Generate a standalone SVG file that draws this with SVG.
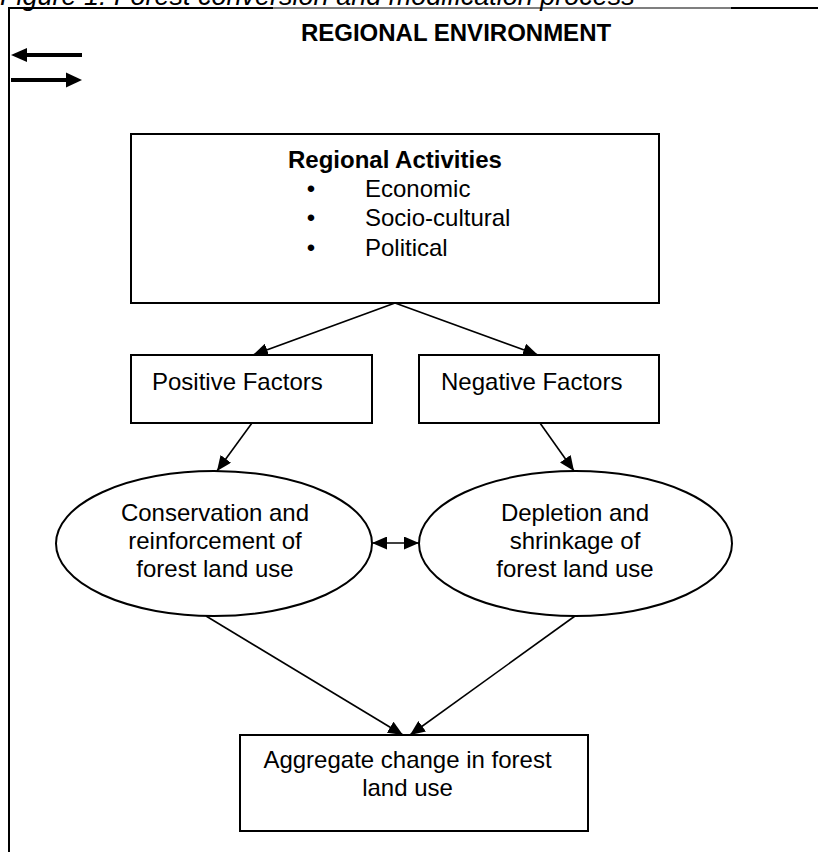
<svg xmlns="http://www.w3.org/2000/svg" width="818" height="852" viewBox="0 0 818 852">
<defs>
<style>
text{font-family:"Liberation Sans",Arial,sans-serif;font-size:24px;fill:#000}
.b{font-weight:bold}
.cap{font-style:italic;font-size:27px}
.box{fill:#fff;stroke:#000;stroke-width:2}
.ell{fill:#fff;stroke:#000;stroke-width:2}
.con{stroke:#000;stroke-width:1.6;fill:none}
</style>
<marker id="ah" viewBox="0 0 15 13" refX="15" refY="6.5" markerWidth="15" markerHeight="13" markerUnits="userSpaceOnUse" orient="auto-start-reverse">
<path d="M0,0 L15,6.5 L0,13 z" fill="#000"/>
</marker>
</defs>
<rect width="818" height="852" fill="#fff"/>
<g id="caption">
<text class="cap" x="0" y="4.5">Figure 1: Forest conversion and modification process</text>
</g>
<g id="frame">
<line x1="8" y1="8" x2="273" y2="8" stroke="#000" stroke-width="2"/>
<line x1="273" y1="8" x2="731" y2="8" stroke="#000" stroke-width="1.2"/>
<line x1="731" y1="8" x2="818" y2="8" stroke="#000" stroke-width="2"/>
<line x1="9" y1="7" x2="9" y2="852" stroke="#000" stroke-width="2"/>
<text class="b" x="456" y="41" text-anchor="middle">REGIONAL ENVIRONMENT</text>
<rect x="26" y="53" width="56" height="4" fill="#000"/>
<polygon points="11,55 27,48 27,62" fill="#000"/>
<rect x="11" y="78" width="56" height="4" fill="#000"/>
<polygon points="82,80 66,72.5 66,87.5" fill="#000"/>
</g>
<g id="connectors">
<line class="con" x1="395" y1="303" x2="253" y2="355" marker-end="url(#ah)"/>
<line class="con" x1="395" y1="303" x2="538" y2="355" marker-end="url(#ah)"/>
<line class="con" x1="252" y1="423" x2="217" y2="471" marker-end="url(#ah)"/>
<line class="con" x1="540" y1="423" x2="574" y2="471" marker-end="url(#ah)"/>
<line class="con" x1="372" y1="543" x2="419" y2="543" marker-start="url(#ah)" marker-end="url(#ah)"/>
<line class="con" x1="206" y1="616" x2="403" y2="735" marker-end="url(#ah)"/>
<line class="con" x1="575" y1="616" x2="410" y2="735" marker-end="url(#ah)"/>
</g>
<g id="regional-activities">
<rect class="box" x="131" y="134" width="528" height="169"/>
<text class="b" x="288" y="168">Regional Activities</text>
<text x="311" y="197" text-anchor="middle">•</text>
<text x="311" y="226" text-anchor="middle">•</text>
<text x="311" y="256" text-anchor="middle">•</text>
<text x="365" y="197">Economic</text>
<text x="365" y="226">Socio-cultural</text>
<text x="365" y="256">Political</text>
</g>
<g id="positive-factors">
<rect class="box" x="131" y="355" width="241" height="68"/>
<text x="152" y="390">Positive Factors</text>
</g>
<g id="negative-factors">
<rect class="box" x="419" y="355" width="240" height="68"/>
<text x="441" y="390">Negative Factors</text>
</g>
<g id="conservation">
<ellipse class="ell" cx="214" cy="543.5" rx="158" ry="72.5"/>
<text x="215" y="521" text-anchor="middle">Conservation and</text>
<text x="215" y="549" text-anchor="middle">reinforcement of</text>
<text x="215" y="577" text-anchor="middle">forest land use</text>
</g>
<g id="depletion">
<ellipse class="ell" cx="575.5" cy="543.5" rx="156.5" ry="72.5"/>
<text x="575" y="521" text-anchor="middle">Depletion and</text>
<text x="575" y="549" text-anchor="middle">shrinkage of</text>
<text x="575" y="577" text-anchor="middle">forest land use</text>
</g>
<g id="aggregate">
<rect class="box" x="240" y="735" width="348" height="96"/>
<text x="407.5" y="768" text-anchor="middle">Aggregate change in forest</text>
<text x="407.5" y="796" text-anchor="middle">land use</text>
</g>
</svg>
